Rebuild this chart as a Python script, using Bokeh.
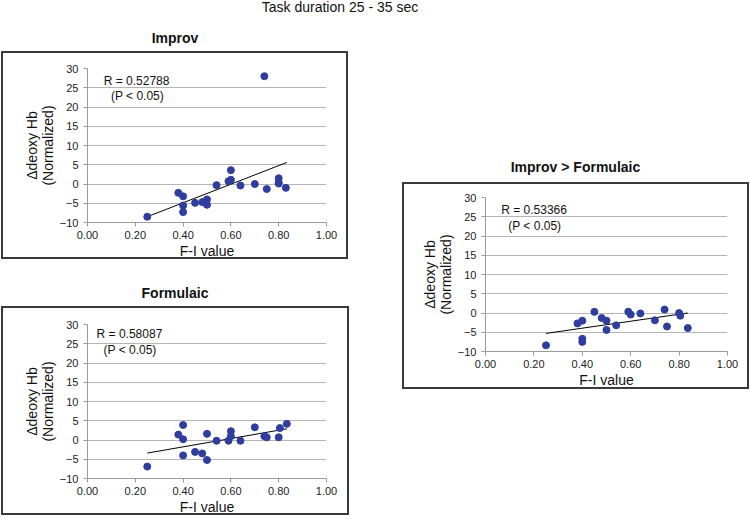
from bokeh.plotting import figure
from bokeh.models import Range1d, FixedTicker, Div, Spacer, Label, NumeralTickFormatter
from bokeh.layouts import column, row
from bokeh.embed import file_html
from bokeh.resources import INLINE

FONT = "Liberation Sans"

# ---------------- data ----------------
main_title = "Task duration 25 - 35 sec"
panel_titles = ["Improv", "Formulaic", "Improv > Formulaic"]
r_texts = ["R = 0.52788", "R = 0.58087", "R = 0.53366"]
p_text = "(P < 0.05)"
x_label = "F-I value"
y_label = "\u0394deoxy Hb\n(Normalized)"
x_ticks = [0.0, 0.2, 0.4, 0.6, 0.8, 1.0]
y_ticks = [-10, -5, 0, 5, 10, 15, 20, 25, 30]

improv_x = [0.25, 0.38, 0.40, 0.40, 0.40, 0.45, 0.48, 0.50, 0.50, 0.54, 0.59,
            0.60, 0.60, 0.64, 0.70, 0.74, 0.75, 0.80, 0.80, 0.80, 0.83]
improv_y = [-8.5, -2.3, -3.2, -5.6, -7.3, -4.9, -4.7, -4.0, -5.4, -0.3, 0.7,
            1.1, 3.6, -0.4, 0.0, 28.0, -1.3, 1.5, 0.4, 0.1, -1.0]
improv_fit_x = [0.25, 0.834]
improv_fit_y = [-8.5, 5.6]

form_x = [0.25, 0.38, 0.40, 0.40, 0.40, 0.45, 0.48, 0.50, 0.50, 0.54, 0.59,
          0.60, 0.60, 0.64, 0.70, 0.74, 0.75, 0.80, 0.805, 0.834]
form_y = [-6.9, 1.4, 3.9, 0.2, -4.0, -3.1, -3.5, -5.2, 1.6, -0.2, -0.2,
          1.0, 2.3, -0.2, 3.3, 1.0, 0.7, 0.7, 3.1, 4.2]
form_fit_x = [0.25, 0.834]
form_fit_y = [-3.4, 2.9]

diff_x = [0.25, 0.38, 0.40, 0.40, 0.40, 0.45, 0.48, 0.50, 0.50, 0.54, 0.59,
          0.60, 0.64, 0.70, 0.74, 0.75, 0.80, 0.805, 0.836]
diff_y = [-8.4, -2.7, -2.0, -6.7, -7.5, 0.3, -1.3, -2.0, -4.4, -3.2, 0.35,
          -0.4, -0.1, -1.9, 0.9, -3.5, 0.0, -0.7, -3.9]
diff_fit_x = [0.25, 0.836]
diff_fit_y = [-5.3, 0.0]

POINT_COLOR = "#2f3d9e"
BORDER = "2px solid #3a3a3a"


def panel(xs, ys, fx, fy, rtext, rpos, ppos, fw, fh, ml, mr, mt, mb):
    p = figure(frame_width=fw, frame_height=fh, x_range=Range1d(0, 1), y_range=Range1d(-10, 30),
               output_backend="svg", toolbar_location=None,
               min_border_left=ml, min_border_right=mr, min_border_top=mt, min_border_bottom=mb,
               styles={"border": BORDER, "box-sizing": "content-box"})
    p.outline_line_color = None
    p.background_fill_color = "white"
    p.border_fill_color = "white"
    p.xgrid.visible = False
    p.ygrid.grid_line_color = "#b4b4b4"
    p.ygrid.grid_line_width = 1
    p.ygrid.ticker = FixedTicker(ticks=y_ticks)

    p.xaxis.ticker = FixedTicker(ticks=x_ticks)
    p.xaxis.formatter = NumeralTickFormatter(format="0.00")
    p.yaxis.ticker = FixedTicker(ticks=y_ticks)
    for ax in (p.xaxis, p.yaxis):
        ax.axis_line_color = "#9a9a9a"
        ax.major_tick_line_color = "#9a9a9a"
        ax.major_tick_out = 4
        ax.major_tick_in = 0
        ax.minor_tick_line_color = None
        ax.major_label_text_font = FONT
        ax.major_label_text_font_size = "11px"
        ax.major_label_text_color = "#222222"
        ax.axis_label_text_font = FONT
        ax.axis_label_text_font_size = "14px"
        ax.axis_label_text_font_style = "normal"
        ax.axis_label_text_color = "#111111"
    p.xaxis.major_label_standoff = 4
    p.yaxis.major_label_standoff = 5
    p.xaxis.axis_label = x_label
    p.xaxis.axis_label_standoff = 1
    p.yaxis.axis_label = y_label
    p.yaxis.axis_label_standoff = 1
    p.yaxis.axis_label_text_line_height = 1.0

    p.line(fx, fy, line_color="black", line_width=1)
    p.scatter(xs, ys, size=7, fill_color=POINT_COLOR, line_color=POINT_COLOR)

    p.add_layout(Label(x=rpos[0], y=rpos[1], text=rtext, text_font=FONT, text_font_size="12px",
                       text_baseline="middle", text_color="#111111"))
    p.add_layout(Label(x=ppos[0], y=ppos[1], text=p_text, text_font=FONT, text_font_size="12px",
                       text_baseline="middle", text_color="#111111"))
    return p


def title_div(text, width, height, pad_top, bold=True, size="14px", lh=16):
    return Div(text=text, width=width, height=height, margin=(0, 0, 0, 0),
               styles={"font-family": FONT, "font-size": size,
                       "font-weight": "bold" if bold else "normal",
                       "text-align": "center", "line-height": f"{lh}px",
                       "padding-top": f"{pad_top}px", "box-sizing": "border-box",
                       "color": "#111111"})


p1 = panel(improv_x, improv_y, improv_fit_x, improv_fit_y, r_texts[0], (0.068, 26.8), (0.098, 22.8),
           235, 150, 84, 24, 15, 38)
p2 = panel(form_x, form_y, form_fit_x, form_fit_y, r_texts[1], (0.038, 27.5), (0.067, 23.5),
           235, 150, 84, 25, 16, 38)
p3 = panel(diff_x, diff_y, diff_fit_x, diff_fit_y, r_texts[2], (0.065, 26.8), (0.094, 22.6),
           238, 150, 81, 24, 13, 40)

t_main = title_div(main_title, 680, 20, 0, bold=False, lh=14)
t1 = title_div(panel_titles[0], 348, 31, 10)
t2 = title_div(panel_titles[1], 348, 47, 26)
t3 = title_div(panel_titles[2], 347, 162, 139)

left = column(t1, p1, t2, p2, spacing=0)
right = column(t3, p3, spacing=0)
body = row(Spacer(width=1, height=10), left, Spacer(width=53, height=10), right, spacing=0)
page = column(t_main, body, spacing=0)

open("out.html", "w").write(file_html(page, INLINE))
